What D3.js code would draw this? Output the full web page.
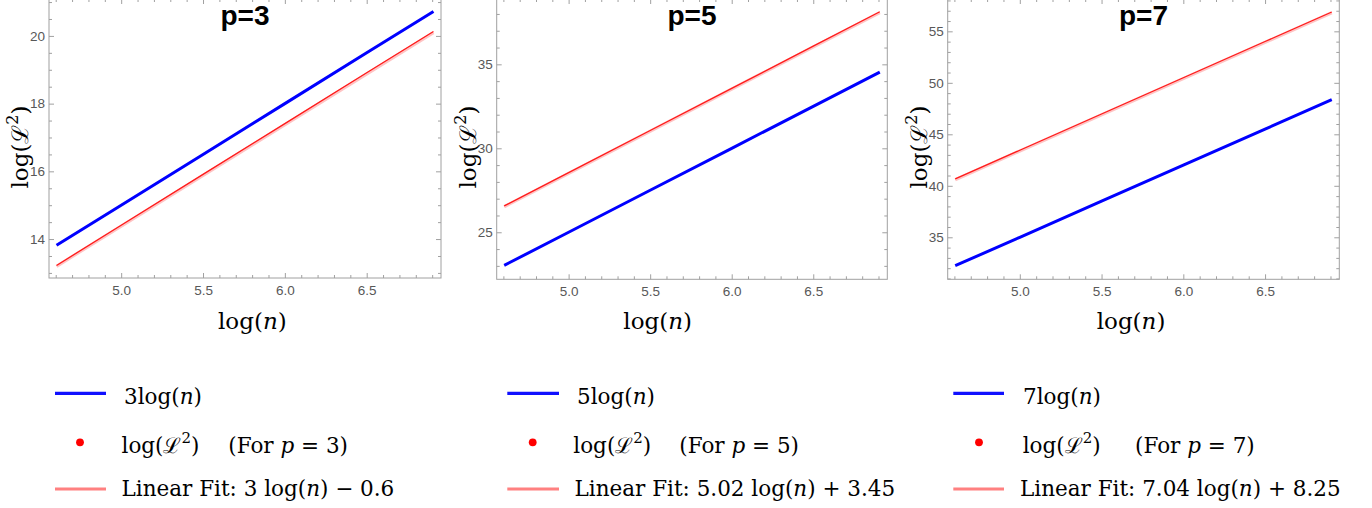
<!DOCTYPE html>
<html><head><meta charset="utf-8">
<script src="https://cdn.jsdelivr.net/npm/d3@7"></script>
<style>body{margin:0;background:#fff}svg{display:block}</style>
</head><body>
<svg id="c" width="1372" height="508"></svg>
<script>
// ---- data ----
const logN = [4.605, 5.0, 5.5, 6.0, 6.5, 6.908];
const p3Blue = [13.82, 15.0, 16.5, 18.0, 19.5, 20.72];
const p3Red  = [13.22, 14.41, 15.91, 17.41, 18.91, 20.13];
const p3Fit  = [13.22, 20.12];
const p5Blue = [23.03, 25.0, 27.5, 30.0, 32.5, 34.54];
const p5Red  = [26.57, 28.55, 31.06, 33.57, 36.08, 38.13];
const p5Fit  = [26.57, 38.13];
const p7Blue = [32.24, 35.0, 38.5, 42.0, 45.5, 48.36];
const p7Red  = [40.67, 43.45, 46.97, 50.49, 54.01, 56.88];
const p7Fit  = [40.67, 56.88];
const fitX = [4.605, 6.908];
const xMajor = [5.0, 5.5, 6.0, 6.5];
const xMinor = [4.6,4.7,4.8,4.9,5.1,5.2,5.3,5.4,5.6,5.7,5.8,5.9,6.1,6.2,6.3,6.4,6.6,6.7,6.8,6.9];
const p3YMajor = [14, 16, 18, 20];
const p3YMinor = [13,13.5,14.5,15,15.5,16.5,17,17.5,18.5,19,19.5,20.5,21];
const p5YMajor = [25, 30, 35];
const p5YMinor = [23,24,26,27,28,29,31,32,33,34,36,37,38];
const p7YMajor = [35, 40, 45, 50, 55];
const p7YMinor = [31,32,33,34,36,37,38,39,41,42,43,44,46,47,48,49,51,52,53,54,56,57,58];
const fitLabels = ["3 log(", "5.02 log(", "7.04 log("];
const fitTails = [") \u2212 0.6", ") + 3.45", ") + 8.25"];

// ---- layout ----
const panels = [
  {p:3, blue:p3Blue, red:p3Red, fit:p3Fit, yMaj:p3YMajor, yMin:p3YMinor, left:49, right:441, bottom:278, yDom:[12.85,21.09],
   xLab:218, lg:{l0:55, l1:106, t1:124, dot:80, t2:121.5, t2b:228.3, t3:121.5}},
  {p:5, blue:p5Blue, red:p5Red, fit:p5Fit, yMaj:p5YMajor, yMin:p5YMinor, left:496.7, right:887.3, bottom:279.3, yDom:[22.2,38.89],
   xLab:623.3, lg:{l0:507.3, l1:559, t1:577, dot:532.7, t2:573.3, t2b:679.3, t3:574.5}},
  {p:7, blue:p7Blue, red:p7Red, fit:p7Fit, yMaj:p7YMajor, yMin:p7YMinor, left:947.7, right:1339.3, bottom:279.3, yDom:[30.92,58.14],
   xLab:1096.7, lg:{l0:953.3, l1:1004, t1:1023, dot:979, t2:1022.7, t2b:1135, t3:1020}}
];
const frameTop = -1;
const svg = d3.select("#c");
const frameCol = "#a0a0a0", tickLabCol = "#585858";
const serif = "'DejaVu Serif', serif";

panels.forEach((P, i) => {
  const x = d3.scaleLinear().domain([4.559, 6.954]).range([P.left, P.right]);
  const y = d3.scaleLinear().domain(P.yDom).range([P.bottom, frameTop]);
  const g = svg.append("g");

  const styleAxis = sel => {
    sel.select(".domain").remove();
    sel.selectAll(".tick line").attr("stroke", frameCol);
    sel.selectAll(".tick text").attr("fill", tickLabCol).attr("font-family", "'Liberation Sans', Arial, sans-serif").attr("font-size", 13.5);
  };
  // bottom
  g.append("g").attr("transform", `translate(0,${P.bottom})`)
    .call(d3.axisBottom(x).tickValues(xMajor).tickSize(-5).tickPadding(7).tickFormat(d3.format(".1f"))).call(styleAxis);
  g.append("g").attr("transform", `translate(0,${P.bottom})`)
    .call(d3.axisBottom(x).tickValues(xMinor).tickSize(-3).tickFormat("")).call(styleAxis);
  // top
  g.append("g").attr("transform", `translate(0,${frameTop})`)
    .call(d3.axisTop(x).tickValues(xMajor).tickSize(-5).tickFormat("")).call(styleAxis);
  g.append("g").attr("transform", `translate(0,${frameTop})`)
    .call(d3.axisTop(x).tickValues(xMinor).tickSize(-3).tickFormat("")).call(styleAxis);
  // left
  g.append("g").attr("transform", `translate(${P.left},0)`)
    .call(d3.axisLeft(y).tickValues(P.yMaj).tickSize(-5).tickPadding(4).tickFormat(d3.format("d"))).call(styleAxis);
  g.append("g").attr("transform", `translate(${P.left},0)`)
    .call(d3.axisLeft(y).tickValues(P.yMin).tickSize(-3).tickFormat("")).call(styleAxis);
  // right
  g.append("g").attr("transform", `translate(${P.right},0)`)
    .call(d3.axisRight(y).tickValues(P.yMaj).tickSize(-5).tickFormat("")).call(styleAxis);
  g.append("g").attr("transform", `translate(${P.right},0)`)
    .call(d3.axisRight(y).tickValues(P.yMin).tickSize(-3).tickFormat("")).call(styleAxis);

  // frame
  g.append("rect").attr("x", P.left).attr("y", frameTop).attr("width", P.right - P.left).attr("height", P.bottom - frameTop)
    .attr("fill", "none").attr("stroke", frameCol).attr("stroke-width", 1);

  const line = d3.line().x(d => x(d[0])).y(d => y(d[1]));
  // fit line (pink, light)
  g.append("path").datum(fitX.map((v, k) => [v, P.fit[k]])).attr("d", line)
    .attr("fill", "none").attr("stroke", "#ffc4c4").attr("stroke-width", 3.2)
    .attr("transform", "translate(0,0.8)");
  // red data
  g.append("path").datum(logN.map((v, k) => [v, P.red[k]])).attr("d", line)
    .attr("fill", "none").attr("stroke", "#ff1a1a").attr("stroke-width", 1.3);
  // blue
  g.append("path").datum(logN.map((v, k) => [v, P.blue[k]])).attr("d", line)
    .attr("fill", "none").attr("stroke", "#0000ff").attr("stroke-width", 3);

  // title
  g.append("text").attr("x", (P.left + P.right) / 2).attr("y", 25).attr("text-anchor", "middle")
    .attr("font-family", "'Liberation Sans', Arial, sans-serif").attr("font-weight", "bold").attr("font-size", 28)
    .attr("fill", "#000").text("p=" + P.p);

  // x label
  const xl = g.append("text").attr("x", P.xLab).attr("y", 329).attr("font-family", serif).attr("font-size", 23).attr("fill", "#000");
  xl.append("tspan").text("log(");
  xl.append("tspan").attr("font-style", "italic").text("n");
  xl.append("tspan").text(")");

  // y label
  const yx = P.left - 21, yy = 147;
  const yl = g.append("text").attr("transform", `translate(${yx},${yy}) rotate(-90)`).attr("text-anchor", "middle")
    .attr("font-family", serif).attr("font-size", 23).attr("fill", "#000");
  yl.append("tspan").text("log(\u2112");
  yl.append("tspan").attr("font-size", 16).attr("dy", -10).text("2");
  yl.append("tspan").attr("dy", 10).text(")");

  // legend
  const L = P.lg;
  const lf = 21.5;
  g.append("line").attr("x1", L.l0).attr("x2", L.l1).attr("y1", 393.3).attr("y2", 393.3).attr("stroke", "#1010ff").attr("stroke-width", 3.2);
  const t1 = g.append("text").attr("x", L.t1).attr("y", 404).attr("font-family", serif).attr("font-size", lf);
  t1.append("tspan").text(P.p + "log(");
  t1.append("tspan").attr("font-style", "italic").text("n");
  t1.append("tspan").text(")");

  g.append("circle").attr("cx", L.dot).attr("cy", 442.3).attr("r", 3.9).attr("fill", "#ff0000");
  const t2 = g.append("text").attr("x", L.t2).attr("y", 453).attr("font-family", serif).attr("font-size", lf);
  t2.append("tspan").text("log(\u2112");
  t2.append("tspan").attr("font-size", 15).attr("dy", -10).text("2");
  t2.append("tspan").attr("dy", 10).text(")");
  const t2b = g.append("text").attr("x", L.t2b).attr("y", 453).attr("font-family", serif).attr("font-size", lf);
  t2b.append("tspan").text("(For ");
  t2b.append("tspan").attr("font-style", "italic").text("p");
  t2b.append("tspan").text(" = " + P.p + ")");

  g.append("line").attr("x1", L.l0).attr("x2", L.l1).attr("y1", 489).attr("y2", 489).attr("stroke", "#ff8080").attr("stroke-width", 3.2);
  const t3 = g.append("text").attr("x", L.t3).attr("y", 496).attr("font-family", serif).attr("font-size", lf);
  t3.append("tspan").text("Linear Fit: " + fitLabels[i]);
  t3.append("tspan").attr("font-style", "italic").text("n");
  t3.append("tspan").text(fitTails[i]);
});
</script>
</body></html>
